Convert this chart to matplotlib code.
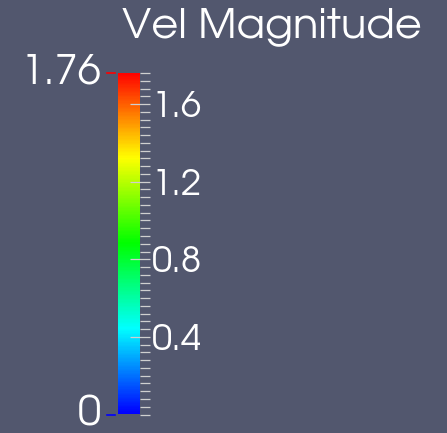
import numpy as np
import matplotlib
matplotlib.use("Agg")
import matplotlib.pyplot as plt
from matplotlib.colors import ListedColormap, hsv_to_rgb

plt.rcParams['font.family'] = ['TeX Gyre Adventor', 'DejaVu Sans']

# scalar range and tick layout of the colour legend
title = "Vel Magnitude"
vmin, vmax = 0.0, 1.76
range_labels = ["0", "1.76"]
major_ticks = [0.4, 0.8, 1.2, 1.6]
major_labels = ["0.4", "0.8", "1.2", "1.6"]
minor_ticks = np.round(np.arange(0, 45) * 0.04, 2)

BG = (0.32, 0.34, 0.43)
TICK = '#cfcfcf'
W, H = 447, 433

fig = plt.figure(figsize=(W / 100, H / 100), dpi=100, facecolor=BG)

# bar box in pixels: left, right, top, bottom
bx0, bx1, by0, by1 = 118, 140, 73, 414.5
cax = fig.add_axes([bx0 / W, 1 - by1 / H, (bx1 - bx0) / W, (by1 - by0) / H])
cax.set_facecolor(BG)

# blue -> red rainbow (hsv hue 240 -> 0)
n = 256
hues = np.linspace(2 / 3, 0, n)
cmap = ListedColormap(hsv_to_rgb(np.column_stack([hues, np.ones(n), np.ones(n)])))
grad = np.linspace(vmin, vmax, n).reshape(-1, 1)
cax.imshow(grad, cmap=cmap, aspect='auto', origin='lower',
           extent=[0, 1, vmin, vmax], vmin=vmin, vmax=vmax, interpolation='nearest')
cax.set_xlim(0, 1)
cax.set_ylim(vmin, vmax)

for s in cax.spines.values():
    s.set_visible(False)
cax.set_xticks([])
cax.yaxis.tick_right()
cax.set_yticks(major_ticks)
cax.set_yticklabels(major_labels)
cax.set_yticks(minor_ticks, minor=True)
cax.tick_params(axis='y', which='major', direction='inout', length=14.4, width=0.9,
                color=TICK, labelcolor='white', labelsize=26, pad=1)
cax.tick_params(axis='y', which='minor', direction='out', length=7.2, width=0.9, color=TICK)

# range labels with short coloured markers on the left
tr = cax.get_yaxis_transform()
for v, lab in zip([vmin, vmax], range_labels):
    cax.text(-0.77, v, lab, transform=tr, ha='right', va='center',
             color='white', fontsize=30)
    cax.plot([-0.5, -0.14], [v, v], transform=tr, clip_on=False, lw=1.2,
             color=cmap((v - vmin) / (vmax - vmin)))

fig.text(122 / W, 1 - 37 / H, title, ha='left', va='baseline', color='white', fontsize=30)

fig.savefig("out.png", dpi=100, facecolor=BG)
